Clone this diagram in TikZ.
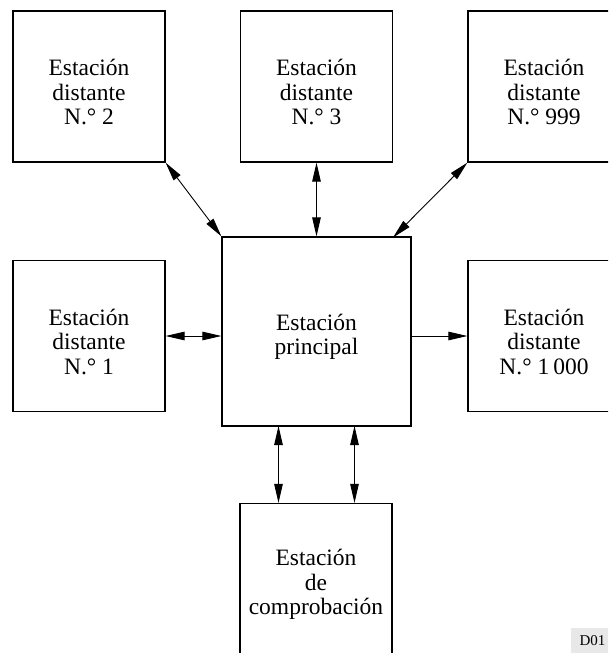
\documentclass[tikz,border=0pt]{standalone}
\usepackage{fontspec}
\setmainfont{Liberation Serif}
\usetikzlibrary{arrows.meta,calc}
\begin{document}
\begin{tikzpicture}[x=1pt,y=-1pt,
  stbox/.style={draw, line width=1.2pt, minimum width=152pt, minimum height=151pt, inner sep=0pt},
  sttext/.style={align=center, inner sep=0pt, yshift=-5.5pt, font=\fontsize{23.5}{24.5}\selectfont},
  conn/.style={line width=0.9pt, {Triangle[length=19pt,width=8.5pt]}-{Triangle[length=19pt,width=8.5pt]}},
  conn1/.style={line width=0.9pt, -{Triangle[length=19pt,width=8.5pt]}}
]
\useasboundingbox (0,0) rectangle (608,653);
\clip (0,0) rectangle (608,653);
\node[stbox] (n2) at (89,86.5) {};
\node[stbox] (n3) at (316.5,86.5) {};
\node[stbox] (n999) at (544,86.5) {};
\node[stbox] (n1) at (89,336) {};
\node[stbox, minimum width=189pt, minimum height=189pt] (p) at (316.5,331.5) {};
\node[stbox] (n1000) at (544,336) {};
\node[stbox] (c) at (316,579) {};
\node[sttext] (n2t) at (n2.center) {Estación\\distante\\N.° 2};
\node[sttext] (n3t) at (n3.center) {Estación\\distante\\N.° 3};
\node[sttext] (n999t) at (n999.center) {Estación\\distante\\N.° 999};
\node[sttext] (n1t) at (n1.center) {Estación\\distante\\N.° 1};
\node[sttext] (pt) at (p.center) {Estación\\principal};
\node[sttext] (n1000t) at (n1000.center) {Estación\\distante\\N.° 1\,000};
\node[sttext] (ct) at (c.center) {Estación\\de\\comprobación};
\fill[black!9] (571,628) rectangle (610,655);
\node[inner sep=0pt, font=\fontsize{15}{16}\selectfont] (lbl) at (592.5,640.5) {D01};
\coordinate (p999) at (393,237.5);
\coordinate (pb1) at (278.5,426);
\coordinate (pb2) at (354.5,426);
\draw[conn] (n2.south east) -- (p.north west);
\draw[conn] (n3.south) -- (p.north);
\draw[conn] (n999.south west) -- (p999);
\draw[conn] (n1.east) -- (n1.east -| p.west);
\draw[conn1] (p.east |- n1000.west) -- (n1000.west);
\draw[conn] (pb1) -- (pb1 |- c.north);
\draw[conn] (pb2) -- (pb2 |- c.north);
\end{tikzpicture}
\end{document}
